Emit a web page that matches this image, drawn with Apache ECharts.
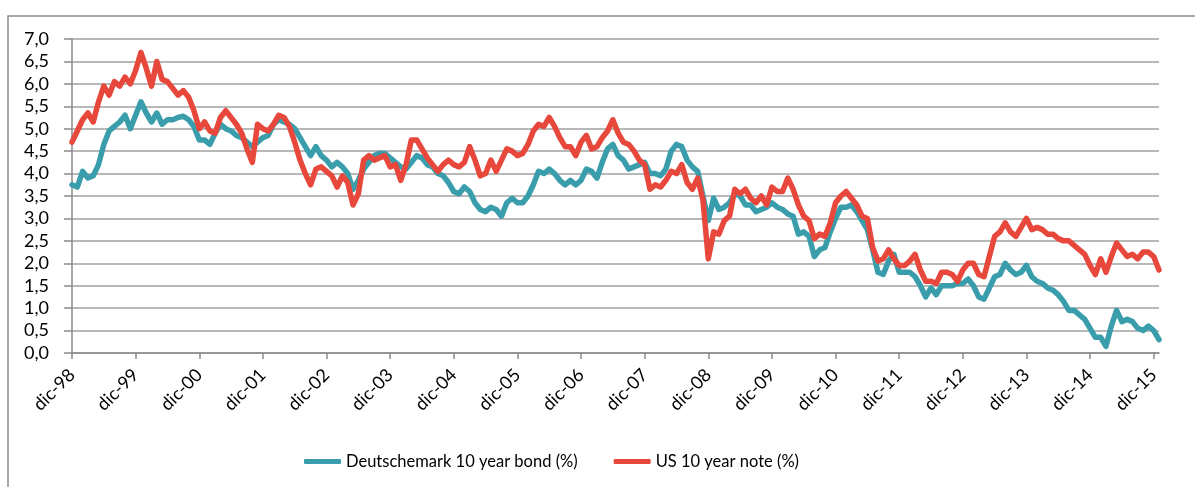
<!DOCTYPE html>
<html>
<head>
<meta charset="utf-8">
<title>10 year yields</title>
<script src="https://cdn.jsdelivr.net/npm/echarts@6/dist/echarts.min.js"></script>
<style>
  html, body { margin: 0; padding: 0; background: #fff; }
  #chart { width: 1195px; height: 487px; }
</style>
</head>
<body>
<div id="chart"></div>
<script>
// monthly readings, dic-98 .. ene-16
const monthNames = ['ene', 'feb', 'mar', 'abr', 'may', 'jun', 'jul', 'ago', 'sep', 'oct', 'nov', 'dic'];
const firstYear = 1998;
const firstMonth = 11; // dic

const deBond = [
  3.75, 3.7, 4.05, 3.9, 3.95, 4.2, 4.65, 4.95, 5.05, 5.15, 5.3, 5.0,
  5.3, 5.6, 5.35, 5.15, 5.35, 5.1, 5.2, 5.2, 5.25, 5.28, 5.2, 5.05,
  4.75, 4.75, 4.65, 4.9, 5.1, 5.0, 4.95, 4.85, 4.8, 4.7, 4.6, 4.7,
  4.8, 4.85, 5.1, 5.2, 5.15, 5.1, 5.0, 4.8, 4.6, 4.4, 4.6, 4.4,
  4.3, 4.15, 4.25, 4.15, 4.0, 3.65, 3.85, 4.1, 4.25, 4.4, 4.45, 4.45,
  4.35, 4.25, 4.15, 4.1, 4.25, 4.4, 4.35, 4.2, 4.15, 4.0, 3.95, 3.8,
  3.6, 3.55, 3.7, 3.6, 3.35, 3.2, 3.15, 3.25, 3.2, 3.05, 3.35, 3.45,
  3.35, 3.35, 3.5, 3.75, 4.05, 4.0, 4.1, 4.0, 3.85, 3.75, 3.85, 3.75,
  3.85, 4.1, 4.05, 3.9, 4.25, 4.55, 4.65, 4.4, 4.3, 4.1, 4.15, 4.2,
  4.25, 4.0, 4.0, 3.95, 4.1, 4.5, 4.65, 4.6, 4.3, 4.15, 4.05, 3.5,
  2.95, 3.45, 3.2, 3.25, 3.35, 3.55, 3.5, 3.3, 3.3, 3.15, 3.2, 3.25,
  3.35, 3.25, 3.2, 3.1, 3.05, 2.65, 2.7, 2.6, 2.15, 2.3, 2.35, 2.7,
  3.0, 3.25, 3.25, 3.3, 3.15, 2.95, 2.75, 2.3, 1.8, 1.75, 2.05, 2.2,
  1.8, 1.8, 1.8, 1.7, 1.5, 1.25, 1.45, 1.3, 1.5, 1.5, 1.5, 1.55,
  1.55, 1.65, 1.5, 1.25, 1.2, 1.45, 1.7, 1.75, 2.0, 1.85, 1.75, 1.8,
  1.95, 1.7, 1.6, 1.55, 1.45, 1.4, 1.3, 1.15, 0.95, 0.95, 0.85, 0.75,
  0.55, 0.35, 0.35, 0.15, 0.6, 0.95, 0.7, 0.75, 0.7, 0.55, 0.5, 0.6,
  0.5, 0.3
];

const usNote = [
  4.7, 4.95, 5.2, 5.35, 5.15, 5.6, 5.95, 5.75, 6.05, 5.95, 6.15, 6.0,
  6.3, 6.7, 6.35, 5.95, 6.5, 6.1, 6.05, 5.9, 5.75, 5.85, 5.7, 5.4,
  5.0, 5.15, 4.95, 4.9, 5.25, 5.4, 5.25, 5.1, 4.9, 4.55, 4.25, 5.1,
  5.0, 4.95, 5.1, 5.3, 5.25, 5.05, 4.7, 4.3, 4.0, 3.75, 4.1, 4.15,
  4.05, 3.95, 3.7, 3.95, 3.8, 3.3, 3.55, 4.3, 4.4, 4.3, 4.35, 4.4,
  4.15, 4.2, 3.85, 4.2, 4.75, 4.75, 4.55, 4.35, 4.2, 4.05, 4.2, 4.3,
  4.2, 4.15, 4.25, 4.6, 4.3, 3.95, 4.0, 4.3, 4.05, 4.3, 4.55, 4.5,
  4.4, 4.45, 4.65, 4.95, 5.1, 5.05, 5.25, 5.05, 4.8, 4.6, 4.6, 4.4,
  4.7, 4.85, 4.55, 4.6, 4.8, 4.95, 5.2, 4.9, 4.7, 4.65, 4.5, 4.3,
  4.2, 3.65, 3.75, 3.7, 3.85, 4.05, 4.0, 4.2, 3.8, 3.65, 3.9, 3.4,
  2.1, 2.7, 2.65, 2.95, 3.05, 3.65, 3.55, 3.65, 3.45, 3.35, 3.5, 3.3,
  3.7, 3.6, 3.6, 3.9, 3.65, 3.3, 3.05, 2.95, 2.55, 2.65, 2.6, 2.9,
  3.35, 3.5, 3.6, 3.45, 3.3, 3.05, 3.0, 2.35, 2.05, 2.1, 2.3, 2.1,
  1.95, 1.95, 2.05, 2.2, 1.85, 1.6, 1.6, 1.55, 1.8, 1.8, 1.75, 1.6,
  1.85, 2.0, 2.0, 1.75, 1.7, 2.15, 2.6, 2.7, 2.9, 2.7, 2.6, 2.8,
  3.0, 2.75, 2.8, 2.75, 2.65, 2.65, 2.55, 2.5, 2.5, 2.4, 2.3, 2.2,
  1.95, 1.75, 2.1, 1.8, 2.15, 2.45, 2.3, 2.15, 2.2, 2.1, 2.25, 2.25,
  2.15, 1.85
];

const months = deBond.map((_, i) => {
  const k = firstMonth + i;
  const yy = String((firstYear + Math.floor(k / 12)) % 100).padStart(2, '0');
  return monthNames[k % 12] + '-' + yy;
});

const chart = echarts.init(document.getElementById('chart'));
const labelFont = 'Lato, "Noto Sans", sans-serif';

const option = {
  animation: false,
  backgroundColor: '#fff',
  graphic: [
    {
      type: 'rect',
      shape: { x: 8, y: 16, width: 1200, height: 500 },
      style: { fill: 'none', stroke: '#8c8c8c', lineWidth: 1.5 },
      silent: true
    }
  ],
  grid: {
    left: 72,
    right: 36,
    top: 39,
    bottom: 134,
    outerBoundsMode: 'none'
  },
  legend: {
    left: 299,
    top: 448,
    icon: 'roundRect',
    itemWidth: 37,
    itemHeight: 5,
    itemGap: 36,
    textStyle: { fontFamily: labelFont, fontSize: 16.5, color: '#000' },
    data: ['Deutschemark 10 year bond (%)', 'US 10 year note (%)']
  },
  xAxis: {
    type: 'category',
    data: months,
    boundaryGap: false,
    axisLine: { lineStyle: { color: '#8a8a8a', width: 1.5 } },
    axisTick: {
      interval: (i) => i % 12 === 0,
      length: 6,
      lineStyle: { color: '#8a8a8a', width: 1.5 }
    },
    axisLabel: {
      interval: (i) => i % 12 === 0,
      rotate: 45,
      margin: 19,
      fontFamily: labelFont,
      fontSize: 18,
      color: '#000'
    },
    splitLine: { show: false }
  },
  yAxis: {
    type: 'value',
    min: 0,
    max: 7,
    interval: 0.5,
    axisLine: { show: true, lineStyle: { color: '#8a8a8a', width: 1.5 } },
    axisTick: { show: true, length: 8, lineStyle: { color: '#8a8a8a', width: 1.5 } },
    axisLabel: {
      margin: 23,
      fontFamily: labelFont,
      fontSize: 18,
      color: '#000',
      formatter: (v) => v.toFixed(1).replace('.', ',')
    },
    splitLine: { lineStyle: { color: '#a0a0a0', width: 1.5 } }
  },
  series: [
    {
      name: 'Deutschemark 10 year bond (%)',
      type: 'line',
      data: deBond,
      symbol: 'none',
      lineStyle: { color: '#3a9dab', width: 5.5, join: 'round', cap: 'round' },
      itemStyle: { color: '#3a9dab' }
    },
    {
      name: 'US 10 year note (%)',
      type: 'line',
      data: usNote,
      symbol: 'none',
      lineStyle: { color: '#e8483c', width: 5.5, join: 'round', cap: 'round' },
      itemStyle: { color: '#e8483c' }
    }
  ]
};

chart.setOption(option);
</script>
</body>
</html>
